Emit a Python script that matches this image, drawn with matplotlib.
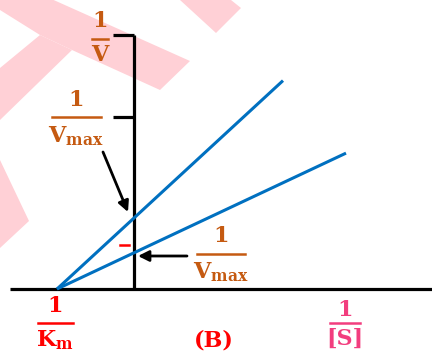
import matplotlib.pyplot as plt
from matplotlib.patches import Polygon

plt.rcParams['font.family'] = ['DejaVu Serif']
plt.rcParams['mathtext.fontset'] = 'custom'
plt.rcParams['mathtext.rm'] = 'DejaVu Serif:bold'
plt.rcParams['mathtext.bf'] = 'DejaVu Serif:bold'

# Lineweaver-Burk sketch, arbitrary units
inv_km = 0.77                 # -1/Km point on the x axis
inv_vmax = [0.71, 0.362]      # y intercepts of the two lines
line_x_end = [1.49, 2.12]     # where each line stops
y_ticks = [2.54, 1.72]        # the two ticks on the 1/V axis
x_axis = [-1.24, 2.98]
y_axis_top = 2.54

orange = "#c55a11"
red = "#ff0000"
pink = "#f23d7e"
blue = "#0070c0"

# pale watermark shapes, pixel coords of the picture (y down)
watermark = [
    [(0, -24), (190, 61), (160, 90), (72, 50), (40, 35), (0, 10)],
    [(40, 35), (72, 50), (0, 120), (0, 68)],
    [(0, 160), (29, 221), (0, 248)],
    [(180, 0), (231, 0), (241, 8), (216, 33)],
]

fig = plt.figure(figsize=(4.32, 3.51), dpi=100)
ax = fig.add_axes([0, 0, 1, 1])
ax.set_xlim(-1.34, 2.98)
ax.set_ylim(-0.62, 2.89)
ax.axis("off")

for pts in watermark:
    pts_ax = [(px / 432, 1 - py / 351) for px, py in pts]
    ax.add_patch(Polygon(pts_ax, closed=True, transform=ax.transAxes,
                         facecolor="#ffd0d6", edgecolor="none", zorder=0))

# axes
ax.plot(x_axis, [0, 0], color="black", lw=2.3, solid_capstyle="butt", zorder=2)
ax.plot([0, 0], [0, y_axis_top], color="black", lw=2.3, solid_capstyle="butt", zorder=2)
for yt in y_ticks:
    ax.plot([-0.21, 0], [yt, yt], color="black", lw=2.3, solid_capstyle="butt", zorder=2)

# the two lines
for b, xe in zip(inv_vmax, line_x_end):
    xs = [-inv_km, xe]
    ys = [b * (1 + x / inv_km) for x in xs]
    ax.plot(xs, ys, color=blue, lw=2.2, solid_capstyle="butt", zorder=3)

# arrows to the intercepts
ax.annotate("", xy=(-0.06, inv_vmax[0] + 0.06), xytext=(-0.31, 1.37),
            arrowprops=dict(arrowstyle="-|>", color="black", lw=2,
                            mutation_scale=16, shrinkA=0, shrinkB=0))
ax.annotate("", xy=(0.04, 0.33), xytext=(0.53, 0.33),
            arrowprops=dict(arrowstyle="-|>", color="black", lw=2,
                            mutation_scale=16, shrinkA=0, shrinkB=0))
ax.plot([-0.14, -0.05], [0.44, 0.44], color=red, lw=1.8)


def fraction(xc, y_num, y_bar, y_den, half, den, color):
    ax.text(xc, y_num, "1", color=color, fontsize=16, fontweight="bold",
            ha="center", va="center")
    ax.plot([xc - half, xc + half], [y_bar, y_bar], color=color, lw=1.8)
    ax.text(xc, y_den, den, color=color, fontsize=16, fontweight="bold",
            ha="center", va="center")


fraction(-0.34, 2.68, 2.50, 2.34, 0.08, "V", orange)
fraction(-0.58, 1.89, 1.72, 1.53, 0.245, r"$\mathbf{V}_{\mathbf{max}}$", orange)
fraction(0.87, 0.53, 0.35, 0.17, 0.24, r"$\mathbf{V}_{\mathbf{max}}$", orange)
fraction(-0.79, -0.17, -0.34, -0.51, 0.175, r"$\mathbf{K}_{\mathbf{m}}$", red)
fraction(2.11, -0.21, -0.34, -0.50, 0.15, "[S]", pink)
ax.text(0.80, -0.52, "(B)", color=red, fontsize=16, fontweight="bold",
        ha="center", va="center")

fig.savefig("out.png", dpi=100)
